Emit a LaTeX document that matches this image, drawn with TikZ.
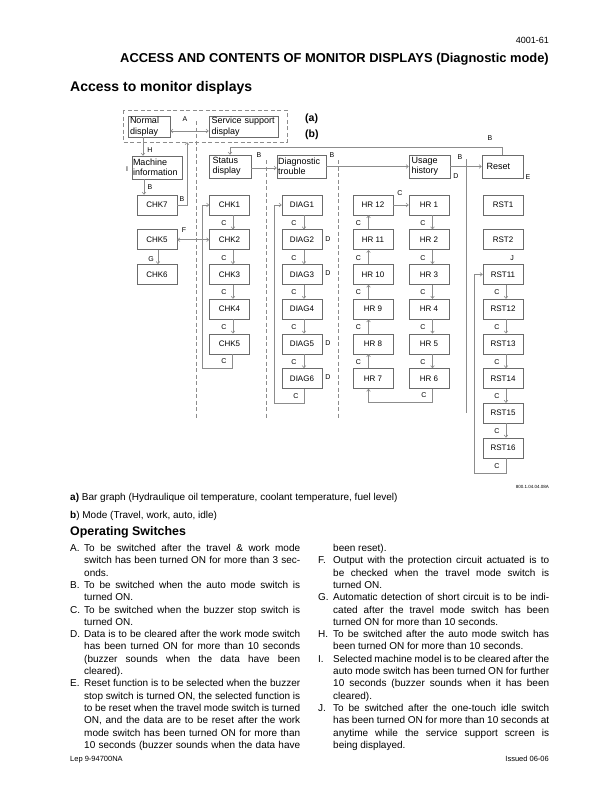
\documentclass[tikz,border=0pt]{standalone}
\usepackage{fontspec}
\setmainfont{Liberation Sans}
\usetikzlibrary{arrows.meta}
\definecolor{boxc}{gray}{0.42}
\definecolor{linec}{gray}{0.55}
\newcommand{\jl}[1]{\makebox[216pt][s]{#1}}
\begin{document}
\begin{tikzpicture}[x=1pt,y=-1pt,
  box/.style={draw=boxc, line width=0.5pt, minimum width=40pt, minimum height=20pt, inner sep=0pt, font=\fontsize{8}{9}\selectfont},
  hb/.style={draw=boxc, line width=0.5pt, inner sep=0pt, align=left, minimum height=23pt, font=\fontsize{9}{10.5}\selectfont},
  lb/.style={font=\fontsize{7}{8}\selectfont, inner sep=0pt},
  cn/.style={draw=linec, line width=0.6pt},
  ar/.style={cn, -{Straight Barb[length=2.2pt,width=3.6pt]}},
  dar/.style={cn, {Straight Barb[length=2.2pt,width=3.6pt]}-{Straight Barb[length=2.2pt,width=3.6pt]}},
  sep/.style={draw=linec, dash pattern=on 4pt off 2.5pt, line width=0.5pt},
  tx/.style={anchor=base west, inner sep=0pt, font=\fontsize{10}{12}\selectfont},
]
\fill[white] (0,0) rectangle (612,792);
\useasboundingbox (0,0) rectangle (612,792);

% headings
\node[anchor=base east, inner sep=0pt, font=\fontsize{9}{10}\selectfont] (pg) at (549,44) {4001-61};
\node[anchor=base east, inner sep=0pt, font=\bfseries\fontsize{12.9}{14}\selectfont] (ti) at (549,63) {ACCESS AND CONTENTS OF MONITOR DISPLAYS (Diagnostic mode)};
\node[anchor=base west, inner sep=0pt, font=\bfseries\fontsize{14}{16}\selectfont] (st) at (70,92) {Access to monitor displays};
\node[anchor=base west, inner sep=0pt, font=\bfseries\fontsize{10.5}{12}\selectfont] (la) at (305,121) {(a)};
\node[anchor=base west, inner sep=0pt, font=\bfseries\fontsize{10.5}{12}\selectfont] (lbb) at (305,137) {(b)};

% separators
\draw[sep] (123,110) rectangle (287,142);
\draw[sep] (196,121) -- (196,418);
\draw[sep] (266,160) -- (266,418);
\draw[sep] (338,160) -- (338,418);
\draw[cn] (466,159) -- (466,413);

% header boxes
\node[hb, minimum width=42pt, minimum height=21pt, text width=38pt] (nd) at (149,126.5) {Normal\\display};
\node[hb, minimum width=69pt, minimum height=21pt, text width=64pt] (ssd) at (243.5,126.5) {Service support\\display};
\node[hb, minimum width=50pt, text width=48pt] (mi) at (157,167.5) {Machine\\information};
\node[hb, minimum width=42pt, text width=35pt] (sd) at (230,166.5) {Status\\display};
\node[hb, minimum width=49pt, text width=47pt] (dt) at (301.5,166.5) {Diagnostic\\trouble};
\node[hb, minimum width=41pt, text width=36pt] (uh) at (429.5,166.5) {Usage\\history};
\node[hb, minimum width=41pt, text width=32pt] (rs) at (502.5,166.5) {Reset};

% left column
\node[box] (k7) at (157,205) {CHK7};
\node[box] (k5l) at (157,239.7) {CHK5};
\node[box] (k6) at (157,274.4) {CHK6};

% columns
\foreach \i in {1,...,5} \node[box] (c\i) at (229.5,{205+34.7*(\i-1)}) {CHK\i};
\foreach \i in {1,...,6} \node[box] (d\i) at (302,{205+34.7*(\i-1)}) {DIAG\i};
\foreach \i/\t in {0/12,1/11,2/10,3/9,4/8,5/7} \node[box] (hr\t) at (373,{205+34.7*\i}) {HR \t};
\foreach \i in {1,...,6} \node[box] (hr\i) at (429,{205+34.7*(\i-1)}) {HR \i};
\node[box] (r1) at (503,205) {RST1};
\node[box] (r2) at (503,239.7) {RST2};
\foreach \i in {11,...,16} \node[box] (r\i) at (503,{205+34.7*(\i-9)}) {RST\i};

% top connectors
\draw[dar] ([yshift=-4.5pt]nd.east) -- ([yshift=-4.5pt]ssd.west);
\node[lb] (lA) at (185,119) {A};
\draw[ar] ([xshift=-6pt]nd.south) -- ([xshift=-14pt]mi.north);
\node[lb] (lH) at (150,150) {H};
\node[lb] (lI) at (127,169) {I};
\draw[ar] ([xshift=-13pt]mi.south) -- ([xshift=-13pt]k7.north);
\node[lb] (lB1) at (150,187) {B};
\coordinate (bk) at (187,142);
\draw[ar] (k7.east) -| (bk);
\node[lb] (lB2) at (182,199) {B};
\draw[dar] (k5l.east) -- (c2.west);
\node[lb] (lF) at (184,230) {F};
\draw[ar] ([xshift=1pt]k5l.south) -- ([xshift=1pt]k6.north);
\node[lb] (lG) at (151,259) {G};

\draw[ar] ([yshift=-1.5pt]sd.east) -- ([yshift=-1.5pt]dt.west);
\node[lb] (lB3) at (259,155) {B};
\draw[ar] (dt.east) -- (uh.west);
\node[lb] (lB4) at (332,155) {B};
\draw[ar] (uh.east) -- (rs.west);
\node[lb] (lB5) at (460,157) {B};
\node[lb] (lD0) at (456,176) {D};
\node[lb] (lE) at (528,177) {E};
\coordinate (tk) at (0,147);
\draw[ar] (rs.north) |- (sd.north |- tk) -- (sd.north);
\node[lb] (lB6) at (490,138) {B};

% CHK column arrows
\foreach \i [evaluate=\i as \j using int(\i+1)] in {1,...,4} {
  \draw[ar] ([xshift=3.5pt]c\i.south) -- ([xshift=3.5pt]c\j.north);
  \node[lb] (cl\i) at (224,{205+34.7*(\i-1)+18}) {C};
}
\coordinate (ck) at (202,368);
\draw[ar] ([xshift=3pt]c5.south) |- (ck) |- (c1.west);
\node[lb] (clk) at (224,361) {C};

% DIAG arrows
\foreach \i [evaluate=\i as \j using int(\i+1)] in {1,...,5} {
  \draw[ar] ([xshift=2pt]d\i.south) -- ([xshift=2pt]d\j.north);
  \node[lb] (dl\i) at (294,{205+34.7*(\i-1)+18}) {C};
}
\foreach \i in {2,3,5,6} \node[lb] (dd\i) at (328,{205+34.7*(\i-1)-1}) {D};
\coordinate (dk) at (274,403);
\draw[ar] ([xshift=2pt]d6.south) |- (dk) |- (d1.west);
\node[lb] (dlk) at (296,396) {C};

% HR arrows
\foreach \a/\b/\k in {7/8/4,8/9/3,9/10/2,10/11/1,11/12/0} {
  \draw[ar] ([xshift=-4.5pt]hr\a.north) -- ([xshift=-4.5pt]hr\b.south);
  \node[lb] (hla\a) at (358.5,{205+34.7*\k+18}) {C};
}
\foreach \i [evaluate=\i as \j using int(\i+1)] in {1,...,5} {
  \draw[ar] ([xshift=3.5pt]hr\i.south) -- ([xshift=3.5pt]hr\j.north);
  \node[lb] (hrl\i) at (423,{205+34.7*(\i-1)+18}) {C};
}
\draw[ar] (hr12.east) -- (hr1.west);
\node[lb] (hc) at (400,193) {C};
\coordinate (hk) at (368.5,402);
\draw[ar] ([xshift=3.5pt]hr6.south) |- (hk) -- ([xshift=-4.5pt]hr7.south);
\node[lb] (hlk) at (424,395) {C};

% RST arrows
\foreach \i [evaluate=\i as \j using int(\i+1)] in {11,...,15} {
  \draw[ar] ([xshift=3pt]r\i.south) -- ([xshift=3pt]r\j.north);
  \node[lb] (rl\i) at (497,{205+34.7*(\i-9)+18}) {C};
}
\node[lb] (lJ) at (512,258) {J};
\coordinate (rk) at (474,473);
\draw[ar] ([xshift=3pt]r16.south) |- (rk) |- (r11.west);
\node[lb] (rlk) at (497,466) {C};

\node[anchor=base east, inner sep=0pt, font=\fontsize{4.5}{5}\selectfont] (ref) at (549,488) {800.1.04.04.08A};

% legend
\node[tx] (ta) at (70,500) {\textbf{a)} Bar graph (Hydraulique oil temperature, coolant temperature, fuel level)};
\node[tx] (tb) at (70,518) {\textbf{b}) Mode (Travel, work, auto, idle)};
\node[anchor=base west, inner sep=0pt, font=\bfseries\fontsize{12.4}{14}\selectfont] (os) at (70,535) {Operating Switches};

% left column text
\node[tx] (A0) at (70,551.5) {A.};
\node[tx] (A1) at (84,551.5) {\jl{To be switched after the travel \& work mode}};
\node[tx] (A2) at (84,563.8) {\jl{switch has been turned ON for more than 3 sec-}};
\node[tx] (A3) at (84,576.1) {onds.};
\node[tx] (B0) at (70,588.4) {B.};
\node[tx] (B1) at (84,588.4) {\jl{To be switched when the auto mode switch is}};
\node[tx] (B2) at (84,600.7) {turned ON.};
\node[tx] (C0) at (70,613.0) {C.};
\node[tx] (C1) at (84,613.0) {\jl{To be switched when the buzzer stop switch is}};
\node[tx] (C2) at (84,625.3) {turned ON.};
\node[tx] (D0) at (70,637.6) {D.};
\node[tx] (D1) at (84,637.6) {\jl{Data is to be cleared after the work mode switch}};
\node[tx] (D2) at (84,649.9) {\jl{has been turned ON for more than 10 seconds}};
\node[tx] (D3) at (84,662.2) {\jl{(buzzer sounds when the data have been}};
\node[tx] (D4) at (84,674.5) {cleared).};
\node[tx] (E0) at (70,686.8) {E.};
\node[tx] (E1) at (84,686.8) {\jl{Reset function is to be selected when the buzzer}};
\node[tx] (E2) at (84,699.1) {\jl{stop switch is turned ON, the selected function is}};
\node[tx] (E3) at (84,711.4) {\jl{to be reset when the travel mode switch is turned}};
\node[tx] (E4) at (84,723.7) {\jl{ON, and the data are to be reset after the work}};
\node[tx] (E5) at (84,736.0) {\jl{mode switch has been turned ON for more than}};
\node[tx] (E6) at (84,748.3) {\jl{10 seconds (buzzer sounds when the data have}};

% right column text
\node[tx] (R0) at (333,551.5) {been reset).};
\node[tx] (F0) at (318,563.8) {F.};
\node[tx] (F1) at (333,563.8) {\jl{Output with the protection circuit actuated is to}};
\node[tx] (F2) at (333,576.1) {\jl{be checked when the travel mode switch is}};
\node[tx] (F3) at (333,588.4) {turned ON.};
\node[tx] (G0) at (318,600.7) {G.};
\node[tx] (G1) at (333,600.7) {\jl{Automatic detection of short circuit is to be indi-}};
\node[tx] (G2) at (333,613.0) {\jl{cated after the travel mode switch has been}};
\node[tx] (G3) at (333,625.3) {turned ON for more than 10 seconds.};
\node[tx] (H0) at (318,637.6) {H.};
\node[tx] (H1) at (333,637.6) {\jl{To be switched after the auto mode switch has}};
\node[tx] (H2) at (333,649.9) {been turned ON for more than 10 seconds.};
\node[tx] (I0) at (318,662.2) {I.};
\node[tx] (I1) at (333,662.2) {\jl{Selected machine model is to be cleared after the}};
\node[tx] (I2) at (333,674.5) {\jl{auto mode switch has been turned ON for further}};
\node[tx] (I3) at (333,686.8) {\jl{10 seconds (buzzer sounds when it has been}};
\node[tx] (I4) at (333,699.1) {cleared).};
\node[tx] (J0) at (318,711.4) {J.};
\node[tx] (J1) at (333,711.4) {\jl{To be switched after the one-touch idle switch}};
\node[tx] (J2) at (333,723.7) {\jl{has been turned ON for more than 10 seconds at}};
\node[tx] (J3) at (333,736.0) {\jl{anytime while the service support screen is}};
\node[tx] (J4) at (333,748.3) {being displayed.};

% footer
\node[anchor=base west, inner sep=0pt, font=\fontsize{7.5}{9}\selectfont] (ft1) at (70,761) {Lep 9-94700NA};
\node[anchor=base east, inner sep=0pt, font=\fontsize{7.5}{9}\selectfont] (ft2) at (549,761) {Issued 06-06};
\end{tikzpicture}
\end{document}
